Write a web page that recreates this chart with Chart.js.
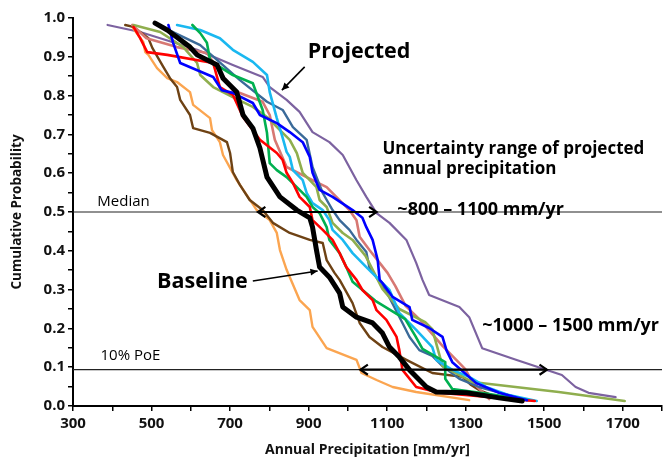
<!DOCTYPE html>
<html>
<head>
<meta charset="utf-8">
<title>Cumulative probability of annual precipitation</title>
<script src="https://cdn.jsdelivr.net/npm/chart.js@4.4.1/dist/chart.umd.min.js"></script>
<style>
    html, body { margin: 0; padding: 0; background: #fff; }
    #wrap { width: 666px; height: 458px; }
</style>
</head>
<body>
<div id="wrap"><canvas id="cdfChart" width="666" height="458"></canvas></div>
<script>
// Cumulative probability curves of annual precipitation
// Values: [precipitation mm/yr, cumulative probability]

const baseline = [
    [509, 0.987], [540, 0.969], [598, 0.925], [616, 0.905], [667, 0.879], [682, 0.845],
    [717, 0.809], [733, 0.750], [758, 0.716], [776, 0.665], [794, 0.590], [827, 0.539],
    [870, 0.505], [903, 0.485], [910, 0.461], [920, 0.402], [928, 0.358], [953, 0.332],
    [979, 0.291], [987, 0.255], [1022, 0.229], [1063, 0.214], [1088, 0.188], [1106, 0.152],
    [1131, 0.126], [1157, 0.093], [1200, 0.049], [1225, 0.036], [1302, 0.034], [1385, 0.021],
    [1444, 0.013]
];

const projPurple = [
    [388, 0.982], [471, 0.964], [616, 0.918], [707, 0.879], [783, 0.848], [801, 0.822],
    [844, 0.789], [877, 0.758], [910, 0.706], [953, 0.680], [987, 0.647], [1022, 0.582],
    [1047, 0.539], [1073, 0.497], [1106, 0.472], [1149, 0.428], [1174, 0.369], [1190, 0.325],
    [1207, 0.286], [1284, 0.255], [1309, 0.229], [1342, 0.149], [1428, 0.119], [1545, 0.080],
    [1580, 0.049], [1613, 0.034], [1682, 0.023]
];

const projBrown = [
    [433, 0.982], [454, 0.977], [492, 0.948], [502, 0.923], [527, 0.879], [547, 0.845],
    [565, 0.822], [573, 0.789], [598, 0.750], [606, 0.716], [649, 0.704], [692, 0.680],
    [700, 0.652], [707, 0.603], [725, 0.570], [750, 0.531], [783, 0.505], [809, 0.472],
    [852, 0.446], [903, 0.428], [936, 0.420], [946, 0.376], [966, 0.343], [979, 0.325],
    [1012, 0.265], [1030, 0.214], [1055, 0.178], [1088, 0.152], [1149, 0.119], [1215, 0.085],
    [1292, 0.075], [1314, 0.054], [1334, 0.041], [1385, 0.021]
];

const projOrange = [
    [451, 0.977], [479, 0.938], [484, 0.912], [492, 0.905], [514, 0.871], [540, 0.845],
    [565, 0.835], [598, 0.809], [606, 0.776], [649, 0.742], [654, 0.711], [674, 0.680],
    [682, 0.647], [717, 0.582], [768, 0.505], [801, 0.479], [819, 0.446], [827, 0.402],
    [844, 0.351], [877, 0.273], [903, 0.247], [910, 0.204], [946, 0.149], [1022, 0.119],
    [1035, 0.085], [1073, 0.067], [1114, 0.049], [1174, 0.036], [1309, 0.015]
];

const projRed = [
    [454, 0.977], [471, 0.948], [489, 0.912], [540, 0.905], [657, 0.884], [674, 0.822],
    [707, 0.802], [733, 0.745], [776, 0.686], [819, 0.652], [834, 0.634], [844, 0.601],
    [860, 0.575], [877, 0.539], [903, 0.513], [910, 0.479], [936, 0.454], [961, 0.428],
    [979, 0.394], [996, 0.358], [1022, 0.325], [1037, 0.299], [1063, 0.273], [1073, 0.247],
    [1098, 0.222], [1124, 0.178], [1131, 0.144], [1139, 0.093], [1174, 0.049], [1233, 0.034],
    [1385, 0.021], [1476, 0.013]
];

const projBlue = [
    [543, 0.982], [555, 0.936], [573, 0.884], [657, 0.848], [679, 0.814], [707, 0.807],
    [758, 0.781], [776, 0.750], [819, 0.729], [852, 0.706], [885, 0.680], [903, 0.642],
    [910, 0.601], [928, 0.557], [961, 0.539], [1012, 0.505], [1037, 0.485], [1047, 0.461],
    [1063, 0.428], [1076, 0.376], [1081, 0.325], [1088, 0.317], [1114, 0.281], [1157, 0.255],
    [1164, 0.222], [1207, 0.201], [1241, 0.178], [1251, 0.144], [1266, 0.113], [1327, 0.059],
    [1385, 0.034], [1456, 0.015]
];

const projCyan = [
    [565, 0.982], [624, 0.969], [674, 0.948], [707, 0.918], [758, 0.887], [794, 0.853],
    [801, 0.809], [819, 0.742], [834, 0.691], [844, 0.655], [852, 0.642], [860, 0.608],
    [885, 0.582], [895, 0.549], [910, 0.523], [936, 0.505], [953, 0.479], [961, 0.454],
    [987, 0.428], [1012, 0.394], [1047, 0.358], [1106, 0.299], [1131, 0.240], [1174, 0.196],
    [1215, 0.152], [1225, 0.119], [1266, 0.093], [1309, 0.075], [1352, 0.049], [1410, 0.028],
    [1481, 0.013]
];

const projGreen = [
    [604, 0.982], [624, 0.961], [641, 0.936], [649, 0.892], [674, 0.874], [707, 0.853],
    [758, 0.832], [783, 0.763], [794, 0.704], [801, 0.626], [819, 0.608], [844, 0.590],
    [870, 0.564], [895, 0.539], [910, 0.513], [928, 0.497], [946, 0.461], [953, 0.428],
    [979, 0.394], [996, 0.358], [1012, 0.320], [1070, 0.271], [1146, 0.224], [1172, 0.180],
    [1190, 0.147], [1248, 0.113], [1248, 0.070], [1266, 0.044], [1360, 0.031], [1461, 0.015]
];

const projOlive = [
    [454, 0.982], [522, 0.964], [581, 0.925], [616, 0.884], [624, 0.853], [657, 0.822],
    [707, 0.796], [758, 0.771], [794, 0.745], [827, 0.711], [852, 0.686], [870, 0.652],
    [885, 0.601], [903, 0.582], [920, 0.564], [928, 0.531], [946, 0.513], [961, 0.472],
    [987, 0.446], [1012, 0.428], [1045, 0.387], [1088, 0.302], [1131, 0.250], [1197, 0.216],
    [1215, 0.198], [1241, 0.103], [1317, 0.062], [1537, 0.036], [1705, 0.013]
];

const projSteel = [
    [527, 0.977], [624, 0.930], [725, 0.840], [794, 0.784], [834, 0.763], [860, 0.719],
    [895, 0.686], [910, 0.616], [936, 0.549], [961, 0.505], [979, 0.479], [1004, 0.454],
    [1022, 0.428], [1047, 0.397], [1055, 0.356], [1096, 0.299], [1139, 0.214], [1157, 0.178],
    [1182, 0.144], [1215, 0.129], [1241, 0.103], [1284, 0.070], [1334, 0.049], [1436, 0.021]
];

const projRose = [
    [451, 0.982], [487, 0.948], [565, 0.925], [641, 0.910], [707, 0.814], [783, 0.784],
    [801, 0.750], [814, 0.686], [844, 0.616], [910, 0.582], [946, 0.564], [1004, 0.505],
    [1022, 0.479], [1030, 0.436], [1055, 0.402], [1081, 0.369], [1101, 0.343], [1121, 0.309],
    [1147, 0.258], [1182, 0.224], [1241, 0.155], [1266, 0.129], [1299, 0.095], [1317, 0.062],
    [1360, 0.018]
];

// Axis ranges and tick labels
const precipRange = [300, 1800];
const precipTickLabels = [300, 500, 700, 900, 1100, 1300, 1500, 1700];
const probTickLabels = ['0.0', '0.1', '0.2', '0.3', '0.4', '0.5', '0.6', '0.7', '0.8', '0.9', '1.0'];

// Reference levels: median and 10% probability of exceedance
const refLevels = [0.5, 0.0936];

// Uncertainty ranges drawn as double arrows: [from, to, probability]
const rangeArrows = [[771, 1073, 0.5], [1032, 1507, 0.0936]];

// Pointer arrows: [fromX, fromY, toX, toY]
const pointerArrows = [[890, 0.874, 832, 0.814], [758, 0.322, 923, 0.348]];

// Text notes anchored at [precip, probability] (left edge, middle)
const notes = [
    { text: 'Projected', at: [898, 0.912], kind: 'big' },
    { text: 'Baseline', at: [514, 0.320], kind: 'big' },
    { text: 'Uncertainty range of projected', at: [1088, 0.662], kind: 'mid' },
    { text: 'annual precipitation', at: [1088, 0.611], kind: 'mid' },
    { text: '~800 \u2013 1100 mm/yr', at: [1126, 0.505], kind: 'range' },
    { text: '~1000 \u2013 1500 mm/yr', at: [1342, 0.206], kind: 'range' },
    { text: 'Median', at: [362, 0.526], kind: 'small' },
    { text: '10% PoE', at: [370, 0.129], kind: 'small' }
];

const FONT = "'Open Sans', sans-serif";

const noteFonts = {
    big: 'bold 21.5px ' + FONT,
    mid: 'bold 17px ' + FONT,
    range: 'bold 18px ' + FONT,
    small: '15px ' + FONT
};

document.addEventListener('DOMContentLoaded', function() {
    initializeCdfChart();
});

// Arrow head helper
function drawHead(ctx, x0, y0, x1, y1, size, filled) {
    const a = Math.atan2(y1 - y0, x1 - x0);
    const spread = filled ? 0.45 : 0.6;
    ctx.beginPath();
    ctx.moveTo(x1 - size * Math.cos(a - spread), y1 - size * Math.sin(a - spread));
    ctx.lineTo(x1, y1);
    ctx.lineTo(x1 - size * Math.cos(a + spread), y1 - size * Math.sin(a + spread));
    if (filled) {
        ctx.closePath();
        ctx.fill();
    } else {
        ctx.stroke();
    }
}

const annotationPlugin = {
    id: 'cdfNotes',
    afterDatasetsDraw(chart) {
        const ctx = chart.ctx;
        const x = chart.scales.x;
        const y = chart.scales.y;
        ctx.save();

        // horizontal reference lines
        ctx.strokeStyle = '#222';
        ctx.lineWidth = 1.2;
        refLevels.forEach(p => {
            const py = y.getPixelForValue(p);
            ctx.beginPath();
            ctx.moveTo(x.left, py);
            ctx.lineTo(x.right, py);
            ctx.stroke();
        });

        // double arrows for the ranges
        ctx.strokeStyle = '#000';
        ctx.fillStyle = '#000';
        ctx.lineWidth = 2.2;
        rangeArrows.forEach(r => {
            const xa = x.getPixelForValue(r[0]);
            const xb = x.getPixelForValue(r[1]);
            const py = y.getPixelForValue(r[2]);
            ctx.beginPath();
            ctx.moveTo(xa, py);
            ctx.lineTo(xb, py);
            ctx.stroke();
            drawHead(ctx, xb, py, xa, py, 9, false);
            drawHead(ctx, xa, py, xb, py, 9, false);
        });

        // pointer arrows
        ctx.lineWidth = 1.6;
        pointerArrows.forEach(a => {
            const x0 = x.getPixelForValue(a[0]);
            const y0 = y.getPixelForValue(a[1]);
            const x1 = x.getPixelForValue(a[2]);
            const y1 = y.getPixelForValue(a[3]);
            ctx.beginPath();
            ctx.moveTo(x0, y0);
            ctx.lineTo(x1, y1);
            ctx.stroke();
            drawHead(ctx, x0, y0, x1, y1, 8, true);
        });

        // text notes
        ctx.textAlign = 'left';
        ctx.textBaseline = 'middle';
        notes.forEach(n => {
            ctx.font = noteFonts[n.kind];
            ctx.fillText(n.text, x.getPixelForValue(n.at[0]), y.getPixelForValue(n.at[1]));
        });

        ctx.restore();
    }
};

// Build datasets, baseline first so it is painted on top
function buildDatasets() {
    const series = [
        { data: baseline, color: '#000000', width: 5 },
        { data: projBlue, color: '#0000ff', width: 2.6 },
        { data: projRed, color: '#ff0000', width: 2.6 },
        { data: projGreen, color: '#00b050', width: 2.6 },
        { data: projCyan, color: '#1ab8f0', width: 2.6 },
        { data: projOlive, color: '#8fae4e', width: 2.6 },
        { data: projSteel, color: '#3a6a99', width: 2.4 },
        { data: projRose, color: '#d77873', width: 2.6 },
        { data: projBrown, color: '#6e4214', width: 2.4 },
        { data: projOrange, color: '#fba550', width: 2.4 },
        { data: projPurple, color: '#7c62a0', width: 2.2 }
    ];
    return series.map(s => ({
        data: s.data,
        borderColor: s.color,
        borderWidth: s.width,
        pointRadius: 0,
        tension: 0,
        fill: false,
        borderJoinStyle: 'round',
        borderCapStyle: 'round'
    }));
}

function initializeCdfChart() {
    const ctx = document.getElementById('cdfChart');
    if (!ctx) return;

    new Chart(ctx, {
        type: 'line',
        data: { datasets: buildDatasets() },
        options: {
            responsive: false,
            animation: false,
            layout: { padding: { top: 18, right: 3, left: 0, bottom: 0 } },
            plugins: {
                legend: { display: false },
                tooltip: { enabled: false }
            },
            scales: {
                x: {
                    type: 'linear',
                    min: precipRange[0],
                    max: precipRange[1],
                    afterFit: function(scale) { scale.height = 52; },
                    border: { display: true, color: '#000', width: 2 },
                    grid: {
                        drawOnChartArea: false,
                        drawTicks: true,
                        tickLength: 5,
                        color: '#000',
                        lineWidth: 1.5
                    },
                    ticks: {
                        stepSize: 100,
                        autoSkip: false,
                        maxRotation: 0,
                        padding: 4,
                        color: '#111',
                        font: { family: FONT, size: 15, weight: 'bold' },
                        callback: function(value) {
                            return precipTickLabels.includes(value) ? String(value) : '';
                        }
                    },
                    title: {
                        display: true,
                        text: 'Annual Precipitation [mm/yr]',
                        color: '#111',
                        padding: { top: 2, bottom: 0 },
                        font: { family: FONT, size: 14, weight: 'bold' }
                    }
                },
                y: {
                    min: 0,
                    max: 1,
                    afterFit: function(scale) { scale.width = 73; },
                    border: { display: true, color: '#000', width: 2 },
                    grid: {
                        drawOnChartArea: false,
                        drawTicks: true,
                        tickLength: 5,
                        color: '#000',
                        lineWidth: 1.5
                    },
                    ticks: {
                        stepSize: 0.05,
                        autoSkip: false,
                        padding: 3,
                        color: '#111',
                        font: { family: FONT, size: 15, weight: 'bold' },
                        callback: function(value) {
                            const label = value.toFixed(1);
                            const onTenth = Math.abs(value * 10 - Math.round(value * 10)) < 1e-6;
                            return onTenth && probTickLabels.includes(label) ? label : '';
                        }
                    },
                    title: {
                        display: true,
                        text: 'Cumulative Probability',
                        color: '#111',
                        padding: { top: 9, bottom: 4 },
                        font: { family: FONT, size: 13.5, weight: 'bold' }
                    }
                }
            }
        },
        plugins: [annotationPlugin]
    });
}
</script>
</body>
</html>
